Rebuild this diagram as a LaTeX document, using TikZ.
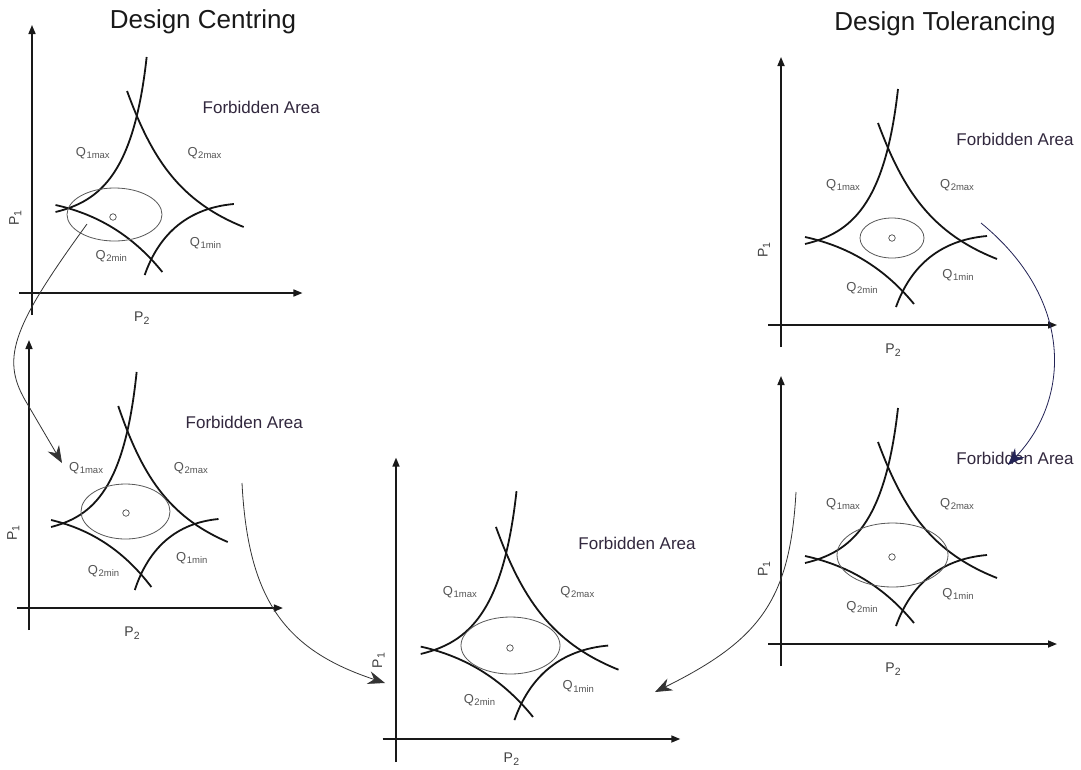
\documentclass[tikz,border=0pt]{standalone}
\usepackage{fontspec}
\setmainfont{Liberation Sans}
\usetikzlibrary{arrows.meta}
\definecolor{facol}{RGB}{50,40,62}
\definecolor{qcol}{RGB}{85,85,85}
\definecolor{navy}{RGB}{35,35,85}
\newcommand\Qsub[1]{{\fontsize{13}{13}\selectfont Q}\kern0.6pt\raisebox{-2.5pt}{\fontsize{9.5}{9.5}\selectfont #1}}
\newcommand\Psub[1]{{\fontsize{14}{14}\selectfont P}\kern0.3pt\raisebox{-2.5pt}{\fontsize{10.5}{10.5}\selectfont #1}}
\tikzset{
  axisline/.style={line width=1.6pt, draw=black!90, -{Triangle[length=9pt,width=7pt]}},
  bound/.style={line width=1.8pt, draw=black!92},
  tolell/.style={line width=0.8pt, draw=black!65},
  centre/.style={circle, draw=black!70, line width=0.7pt, minimum size=6.5pt, inner sep=0pt},
  qlab/.style={text=qcol, inner sep=0pt},
  plab/.style={text=black!75, inner sep=0pt},
  falab/.style={text=facol, font=\fontsize{17}{17}\selectfont, inner sep=0pt},
  titlelab/.style={font=\fontsize{26}{26}\selectfont, text=black!90, inner sep=0pt},
  link/.style={line width=0.8pt, draw=black!80, -{Stealth[length=17pt,width=13pt]}},
}
\newcommand\drawpanel[2]{%
  \draw[axisline] (0,22) -- (0,-268);
  \draw[axisline] (-13,0) -- (276,0);
  \draw[bound] (117,-236) .. controls (104,-120) and (70,-92) .. (24,-81);
  \draw[bound] (97,-202) .. controls (122,-135) and (150,-92) .. (216,-66);
  \draw[bound] (115,-18) .. controls (130,-60) and (160,-85) .. (206,-89);
  \draw[bound] (24,-88) .. controls (70,-78) and (105,-55) .. (133,-21);
  \node[falab] (#1-fa) at (234,-186) {Forbidden Area};
  \node[qlab] (#1-q1max) at (62,-140) {\Qsub{1max}};
  \node[qlab] (#1-q2max) at (176,-140) {\Qsub{2max}};
  \node[qlab] (#1-q1min) at (177,-50) {\Qsub{1min}};
  \node[qlab] (#1-q2min) at (81,-37) {\Qsub{2min}};
  \node[plab, rotate=90] (#1-p1) at (-17,-75) {\Psub{1}};
  \node[plab] (#1-p2) at (112,#2) {\Psub{2}};
}
\begin{document}
\begin{tikzpicture}[x=1pt,y=-1pt]
\useasboundingbox (0,0) rectangle (1081,769);
\fill[white] (0,0) rectangle (1081,769);

\node[titlelab] (t1) at (203,22) {Design Centring};
\node[titlelab] (t2) at (945,24) {Design Tolerancing};

\begin{scope}[shift={(32,293)}, xscale=0.98]
  \drawpanel{pa}{25}
\end{scope}
\begin{scope}[shift={(29,608)}, xscale=0.92]
  \drawpanel{pb}{25}
\end{scope}
\begin{scope}[shift={(396,739)}, xscale=1.03, yscale=1.05]
  \drawpanel{pc}{19}
\end{scope}
\begin{scope}[shift={(781,325)}]
  \drawpanel{pd}{25}
\end{scope}
\begin{scope}[shift={(781,644)}]
  \drawpanel{pe}{25}
\end{scope}

% tolerance ellipses and nominal points
\draw[tolell] (114.5,214.5) ellipse [x radius=47.5pt, y radius=26.5pt];
\node[centre] (pa-o) at (113,217) {};
\draw[tolell] (125.5,511.5) ellipse [x radius=44.5pt, y radius=27.5pt];
\node[centre] (pb-o) at (126,513) {};
\draw[tolell] (510.5,645.5) ellipse [x radius=49.5pt, y radius=28.5pt];
\node[centre] (pc-o) at (510,648) {};
\draw[tolell] (892,238) ellipse [x radius=32pt, y radius=20pt];
\node[centre] (pd-o) at (892,238) {};
\draw[tolell] (892.5,555) ellipse [x radius=55.5pt, y radius=32pt];
\node[centre] (pe-o) at (892,557) {};

% connectors
\coordinate (l1s) at (87,224);
\coordinate (l1e) at (62,463);
\draw[link] (l1s) .. controls (10,330) and (0,360) .. (28,405) -- (l1e);

\coordinate (l2s) at (242,483);
\coordinate (l2e) at (385,683);
\draw[link] (l2s) .. controls (248,600) and (285,650) .. (l2e);

\coordinate (l3s) at (981,223);
\coordinate (l3e) at (1008,465);
\draw[link, draw=navy] (l3s) .. controls (1075,300) and (1070,400) .. (l3e);

\coordinate (l4s) at (796,492);
\coordinate (l4e) at (655,692);
\draw[link] (l4s) .. controls (790,600) and (760,640) .. (l4e);
\end{tikzpicture}
\end{document}
